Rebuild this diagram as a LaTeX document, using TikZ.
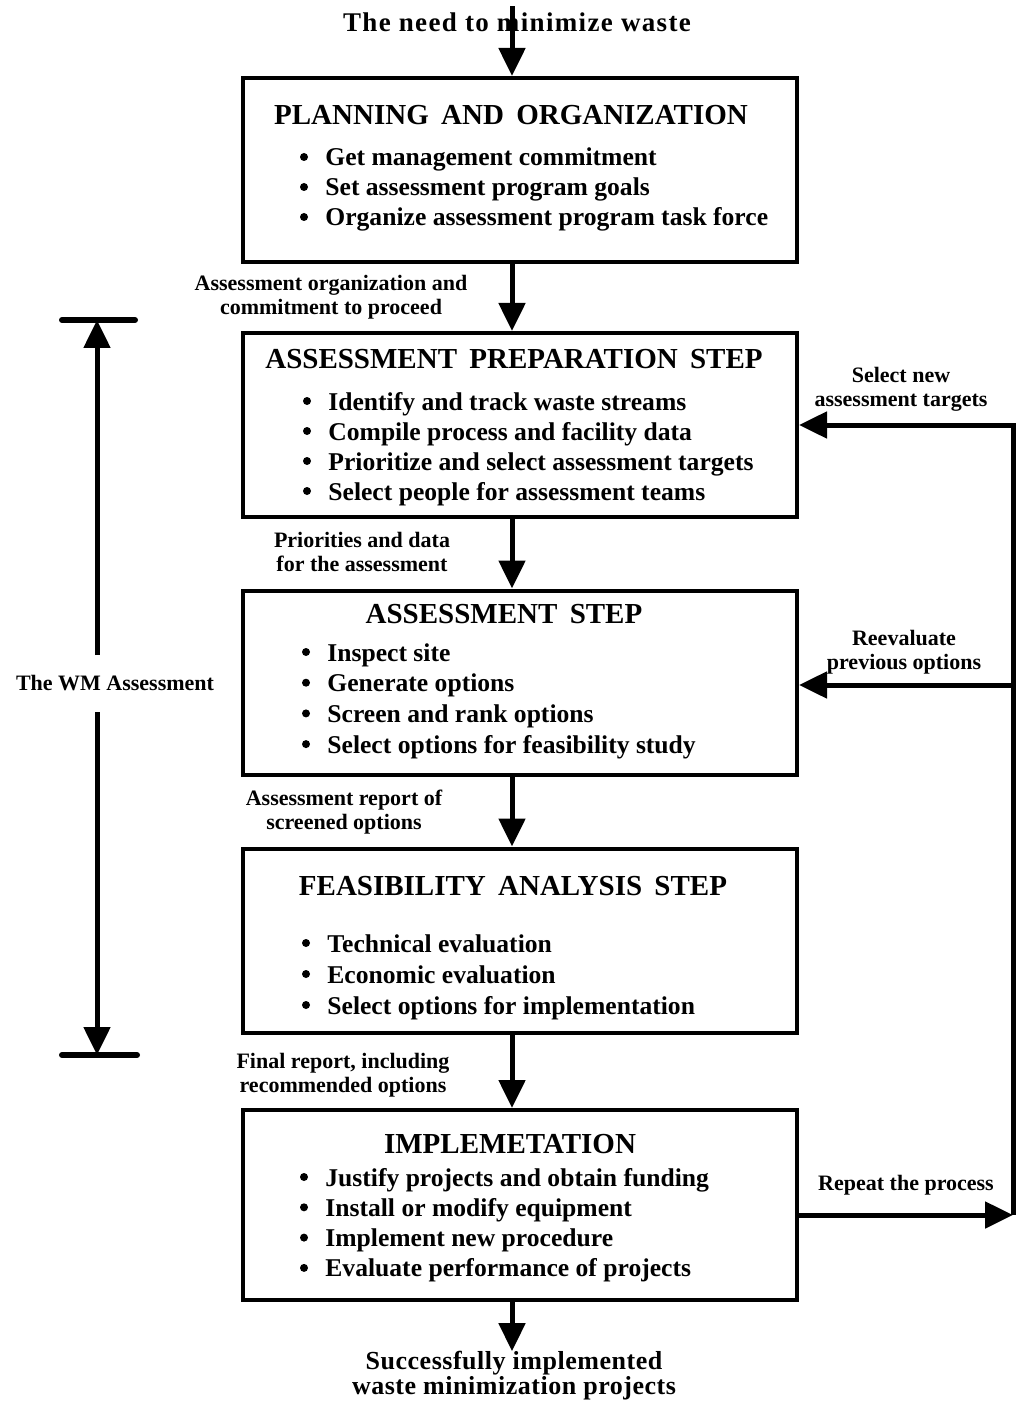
\documentclass[tikz,border=0pt]{standalone}
\usepackage{fontspec}
\setmainfont{Liberation Serif}
\newfontfamily\spc{Liberation Serif}[LetterSpace=5]
\newfontfamily\spcb{Liberation Serif}[LetterSpace=2]
\newfontfamily\ttlf{Liberation Serif}[WordSpace=1.7]
\usetikzlibrary{arrows.meta,calc}
\begin{document}
\begin{tikzpicture}[x=0.5pt,y=-0.5pt,
  stepbox/.style={draw, line width=2pt, minimum width=277pt, minimum height=92pt, inner sep=0},
  ttl/.style={font=\ttlf\fontsize{14.5}{17}\selectfont\bfseries, inner sep=0, anchor=base},
  bul/.style={font=\fontsize{12.8}{15}\selectfont\bfseries, inner sep=0, anchor=base west},
  lbl/.style={font=\fontsize{11}{12}\selectfont\bfseries, align=center, inner sep=0},
  big/.style={font=\spc\fontsize{13.5}{12.5}\selectfont\bfseries, align=center, inner sep=0},
  bigb/.style={font=\spcb\fontsize{13}{12.5}\selectfont\bfseries, align=center, inner sep=0},
  arr/.style={line width=2.5pt, -{Triangle[length=14pt,width=13pt]}},
  bar/.style={line width=3pt, line cap=round},
  dot/.style={fill=black},
  ]
\useasboundingbox (0,0) rectangle (1017,1401);

% boxes
\node[stepbox] (b1) at (520,170) {};
\node[stepbox] (b2) at (520,425) {};
\node[stepbox] (b3) at (520,682.5) {};
\node[stepbox] (b4) at (520,940.5) {};
\node[stepbox, minimum height=95pt] (b5) at (520,1205) {};

% titles
\node[ttl] (t1) at (511,125) {PLANNING AND ORGANIZATION};
\node[ttl] (t2) at (514,368) {ASSESSMENT PREPARATION STEP};
\node[ttl] (t3) at (504,623) {ASSESSMENT STEP};
\node[ttl] (t4) at (513,895) {FEASIBILITY ANALYSIS STEP};
\node[ttl] (t5) at (510,1153) {IMPLEMETATION};

% bullets
\foreach \t [count=\i] in {Get management commitment, Set assessment program goals, Organize assessment program task force}{
  \node[bul] (b1l\i) at (325,{166+30*(\i-1)}) {\t};
  \fill[dot] ([shift={(-21,-9)}]b1l\i.base west) circle (2pt);}
\foreach \t [count=\i] in {Identify and track waste streams, Compile process and facility data, Prioritize and select assessment targets, Select people for assessment teams}{
  \node[bul] (b2l\i) at (328,{410+30*(\i-1)}) {\t};
  \fill[dot] ([shift={(-21,-9)}]b2l\i.base west) circle (2pt);}
\foreach \t [count=\i] in {Inspect site, Generate options, Screen and rank options, Select options for feasibility study}{
  \node[bul] (b3l\i) at (327,{661+30.7*(\i-1)}) {\t};
  \fill[dot] ([shift={(-21,-9)}]b3l\i.base west) circle (2pt);}
\foreach \t [count=\i] in {Technical evaluation, Economic evaluation, Select options for implementation}{
  \node[bul] (b4l\i) at (327,{952+31*(\i-1)}) {\t};
  \fill[dot] ([shift={(-21,-9)}]b4l\i.base west) circle (2pt);}
\foreach \t [count=\i] in {Justify projects and obtain funding, Install or modify equipment, Implement new procedure, Evaluate performance of projects}{
  \node[bul] (b5l\i) at (325,{1186+30.3*(\i-1)}) {\t};
  \fill[dot] ([shift={(-21,-9)}]b5l\i.base west) circle (2pt);}

% top and bottom texts
\node[big] (need) at (517,22) {The need to minimize waste};
\node[bigb] (done) at (514,1376) {Successfully implemented\\waste minimization projects};

% labels
\node[lbl] (l1) at (331,297) {Assessment organization and\\commitment to proceed};
\node[lbl] (l2) at (362,552) {Priorities and data\\for the assessment};
\node[lbl] (l3) at (344,812) {Assessment report of\\screened options};
\node[lbl] (l4) at (343,1075) {Final report, including\\recommended options};
\node[lbl] (r1l) at (901,389) {Select new\\assessment targets};
\node[lbl] (r2l) at (904,652) {Reevaluate\\previous options};
\node[lbl] (r3l) at (906,1185) {Repeat the process};
\node[lbl] (wm) at (115,683) {The WM Assessment};

% central arrows
\coordinate (ax) at (512,0);
\draw[arr] ([yshift=3pt]need.north -| ax) -- (b1.north -| ax);
\draw[arr] (b1.south -| ax) -- (b2.north -| ax);
\draw[arr] (b2.south -| ax) -- (b3.north -| ax);
\draw[arr] (b3.south -| ax) -- (b4.north -| ax);
\draw[arr] (b4.south -| ax) -- (b5.north -| ax);
\draw[arr] (b5.south -| ax) -- (done.north -| ax);

% feedback loop
\coordinate (c1) at (1013,425);
\coordinate (c2) at (1013,685);
\coordinate (c3) at (1013,1215);
\draw[arr] (b5.east |- c3) -- (c3);
\draw[arr] (c3) -- (c1) -- (b2.east |- c1);
\draw[arr] (c2) -- (b3.east |- c2);

% WM assessment span
\coordinate (wt) at (97,320);
\coordinate (wb) at (97,1055);
\coordinate (wa) at (97,655);
\coordinate (wc) at (97,712);
\draw[bar] (62,320) -- (135,320);
\draw[bar] (62,1055) -- (137,1055);
\draw[arr] (wa) -- (wt);
\draw[arr] (wc) -- (wb);
\end{tikzpicture}
\end{document}
